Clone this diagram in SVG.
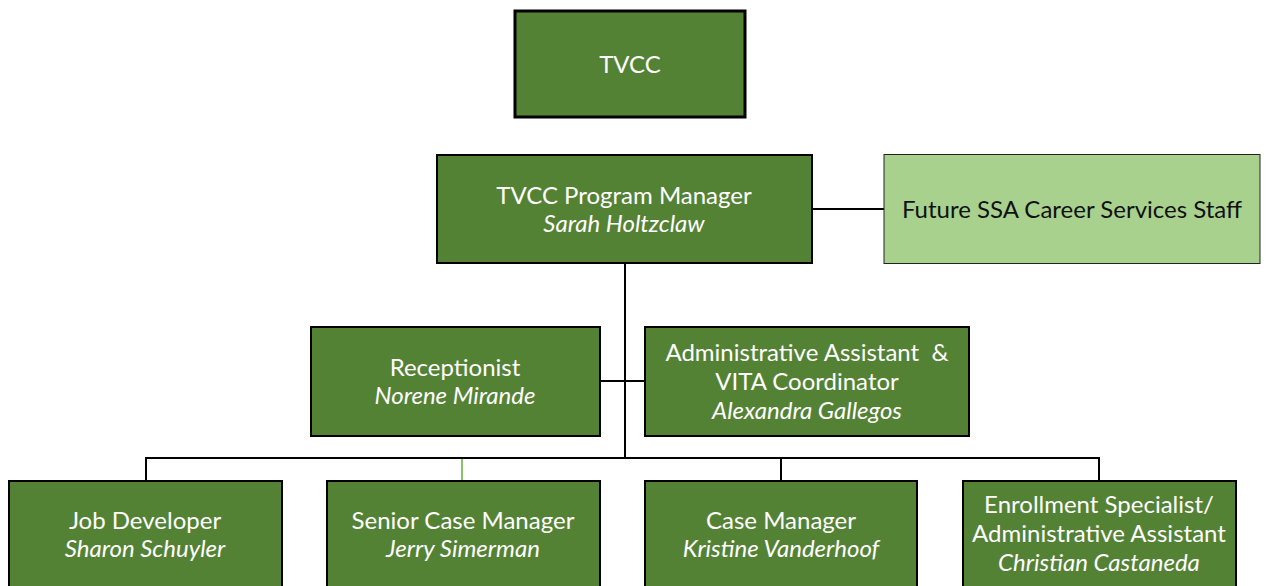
<svg xmlns="http://www.w3.org/2000/svg" width="1266" height="586" viewBox="0 0 1266 586">
  <style>
    .box { fill: #548235; stroke: #000; stroke-width: 2; }
    .top { stroke-width: 3; }
    .future { fill: #A9D18E; stroke: #222; stroke-width: 1; }
    .t { font-family: Lato, "Liberation Sans", sans-serif; font-size: 24px; fill: #fff; text-anchor: middle; }
    .dark { fill: #111; }
    .i { font-style: italic; }
    .line { stroke: #000; stroke-width: 2; fill: none; }
    .green { stroke: #8CC06A; stroke-width: 2; }
  </style>
  <rect width="1266" height="586" fill="#fff"/>
  <g id="connectors">
    <line class="line" x1="812" y1="209" x2="884" y2="209"/>
    <line class="line" x1="625" y1="263" x2="625" y2="458"/>
    <line class="line" x1="600" y1="381" x2="645" y2="381"/>
    <polyline class="line" points="146,481 146,458 1099,458 1099,481"/>
    <line class="line" x1="781" y1="458" x2="781" y2="481"/>
    <line class="line green" x1="462" y1="459" x2="462" y2="481"/>
  </g>
  <g id="tvcc">
    <rect class="box top" x="515" y="11" width="230" height="106"/>
    <text class="t" x="630" y="73">TVCC</text>
  </g>
  <g id="program-manager">
    <rect class="box" x="437" y="155" width="375" height="108"/>
    <text class="t" x="624" y="204">TVCC Program Manager</text>
    <text class="t i" x="624" y="232">Sarah Holtzclaw</text>
  </g>
  <g id="future-staff">
    <rect class="future" x="884" y="154.5" width="376" height="109"/>
    <text class="t dark" x="1072" y="218">Future SSA Career Services Staff</text>
  </g>
  <g id="receptionist">
    <rect class="box" x="311" y="327" width="289" height="109"/>
    <text class="t" x="455" y="376">Receptionist</text>
    <text class="t i" x="455" y="404">Norene Mirande</text>
  </g>
  <g id="admin-assistant">
    <rect class="box" x="645" y="327" width="324" height="109"/>
    <text class="t" x="807" y="361" xml:space="preserve">Administrative Assistant  &amp;</text>
    <text class="t" x="807" y="390">VITA Coordinator</text>
    <text class="t i" x="807" y="419">Alexandra Gallegos</text>
  </g>
  <g id="job-developer">
    <rect class="box" x="9" y="481" width="273" height="110"/>
    <text class="t" x="145" y="529">Job Developer</text>
    <text class="t i" x="145" y="557">Sharon Schuyler</text>
  </g>
  <g id="senior-case-manager">
    <rect class="box" x="327" y="481" width="273" height="110"/>
    <text class="t" x="463" y="529">Senior Case Manager</text>
    <text class="t i" x="463" y="557">Jerry Simerman</text>
  </g>
  <g id="case-manager">
    <rect class="box" x="645" y="481" width="272" height="110"/>
    <text class="t" x="781" y="529">Case Manager</text>
    <text class="t i" x="781" y="557">Kristine Vanderhoof</text>
  </g>
  <g id="enrollment-specialist">
    <rect class="box" x="963" y="481" width="273" height="110"/>
    <text class="t" x="1099" y="513">Enrollment Specialist/</text>
    <text class="t" x="1099" y="542">Administrative Assistant</text>
    <text class="t i" x="1099" y="571">Christian Castaneda</text>
  </g>
</svg>
